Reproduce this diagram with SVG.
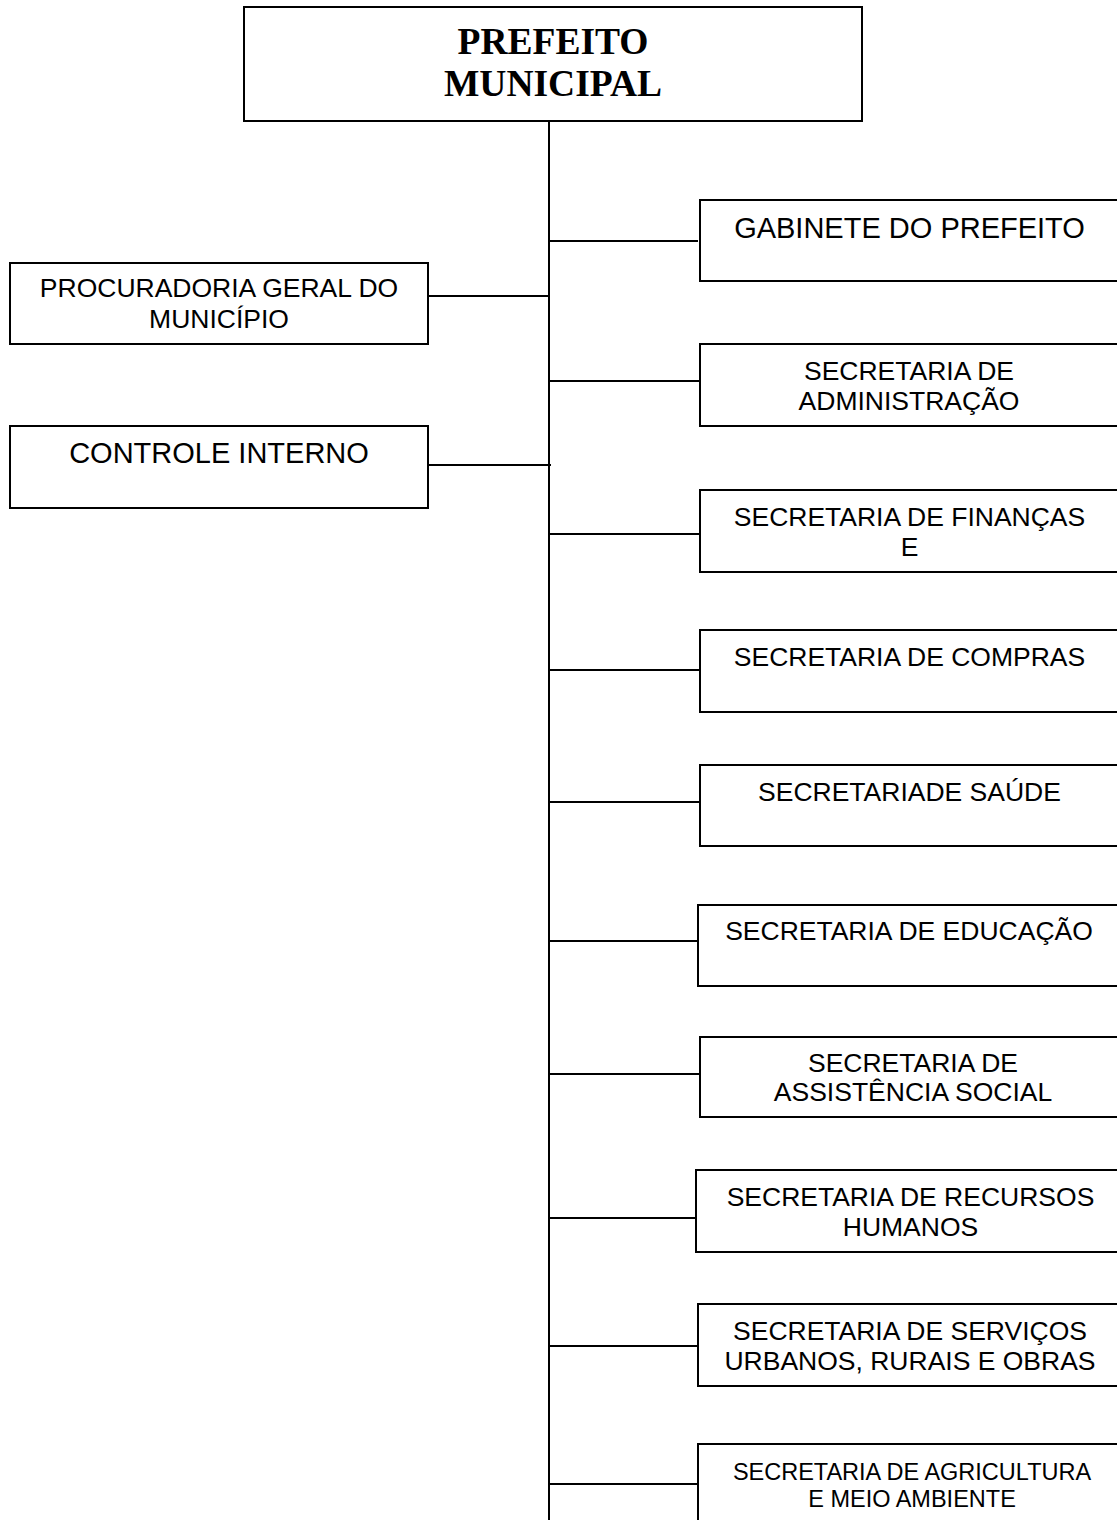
<svg xmlns="http://www.w3.org/2000/svg" width="1117" height="1520" viewBox="0 0 1117 1520">
  <style>
    .box { fill: #ffffff; stroke: #000000; stroke-width: 2; }
    .conn { stroke: #000000; stroke-width: 2; fill: none; }
    .t { font-family: "Liberation Sans", Arial, sans-serif; font-size: 26.5px; fill: #000000; text-anchor: middle; }
    .tl { font-size: 29px; }
    .ts { font-size: 23.5px; }
    .title { font-family: "Liberation Serif", "Times New Roman", serif; font-weight: bold; font-size: 37.5px; fill: #000000; text-anchor: middle; }
  </style>
  <rect width="1117" height="1520" fill="#ffffff"/>

  <!-- connectors -->
  <g id="connectors">
    <line class="conn" x1="549" y1="121" x2="549" y2="1522"/>
    <line class="conn" x1="428" y1="296" x2="549" y2="296"/>
    <line class="conn" x1="428" y1="465" x2="551" y2="465"/>
    <line class="conn" x1="549" y1="241" x2="698" y2="241"/>
    <line class="conn" x1="549" y1="381" x2="700" y2="381"/>
    <line class="conn" x1="549" y1="534" x2="700" y2="534"/>
    <line class="conn" x1="549" y1="670" x2="700" y2="670"/>
    <line class="conn" x1="549" y1="802" x2="700" y2="802"/>
    <line class="conn" x1="549" y1="941" x2="698" y2="941"/>
    <line class="conn" x1="549" y1="1074" x2="700" y2="1074"/>
    <line class="conn" x1="549" y1="1218" x2="698" y2="1218"/>
    <line class="conn" x1="549" y1="1346" x2="698" y2="1346"/>
    <line class="conn" x1="549" y1="1484" x2="698" y2="1484"/>
  </g>

  <g id="prefeito">
    <rect class="box" x="244" y="7" width="618" height="114"/>
    <text class="title" x="553" y="54">PREFEITO</text>
    <text class="title" x="553" y="96">MUNICIPAL</text>
  </g>

  <g id="procuradoria">
    <rect class="box" x="10" y="263" width="418" height="81"/>
    <text class="t" x="219" y="297">PROCURADORIA GERAL DO</text>
    <text class="t" x="219" y="328">MUNICÍPIO</text>
  </g>

  <g id="controle">
    <rect class="box" x="10" y="426" width="418" height="82"/>
    <text class="t tl" x="219" y="463">CONTROLE INTERNO</text>
  </g>

  <g id="gabinete">
    <rect class="box" x="700" y="200" width="430" height="81"/>
    <text class="t tl" x="909.5" y="238">GABINETE DO PREFEITO</text>
  </g>

  <g id="administracao">
    <rect class="box" x="700" y="344" width="430" height="82"/>
    <text class="t" x="909" y="380">SECRETARIA DE</text>
    <text class="t" x="909" y="410">ADMINISTRAÇÃO</text>
  </g>

  <g id="financas">
    <rect class="box" x="700" y="490" width="430" height="82"/>
    <text class="t" x="909.5" y="526">SECRETARIA DE FINANÇAS</text>
    <text class="t" x="909.5" y="556">E</text>
  </g>

  <g id="compras">
    <rect class="box" x="700" y="630" width="430" height="82"/>
    <text class="t" x="909.5" y="666">SECRETARIA DE COMPRAS</text>
  </g>

  <g id="saude">
    <rect class="box" x="700" y="765" width="430" height="81"/>
    <text class="t" x="909.5" y="801">SECRETARIADE SAÚDE</text>
  </g>

  <g id="educacao">
    <rect class="box" x="698" y="905" width="432" height="81"/>
    <text class="t" x="909" y="940">SECRETARIA DE EDUCAÇÃO</text>
  </g>

  <g id="assistencia">
    <rect class="box" x="700" y="1037" width="430" height="80"/>
    <text class="t" x="913" y="1072">SECRETARIA DE</text>
    <text class="t" x="913" y="1101">ASSISTÊNCIA SOCIAL</text>
  </g>

  <g id="recursos-humanos">
    <rect class="box" x="696" y="1170" width="434" height="82"/>
    <text class="t" x="910.5" y="1206">SECRETARIA DE RECURSOS</text>
    <text class="t" x="910.5" y="1236">HUMANOS</text>
  </g>

  <g id="servicos">
    <rect class="box" x="698" y="1304" width="432" height="82"/>
    <text class="t" x="910" y="1340">SECRETARIA DE SERVIÇOS</text>
    <text class="t" x="910" y="1370">URBANOS, RURAIS E OBRAS</text>
  </g>

  <g id="agricultura">
    <rect class="box" x="698" y="1444" width="432" height="90"/>
    <text class="t ts" x="912" y="1480">SECRETARIA DE AGRICULTURA</text>
    <text class="t ts" x="912" y="1507">E MEIO AMBIENTE</text>
  </g>
</svg>
